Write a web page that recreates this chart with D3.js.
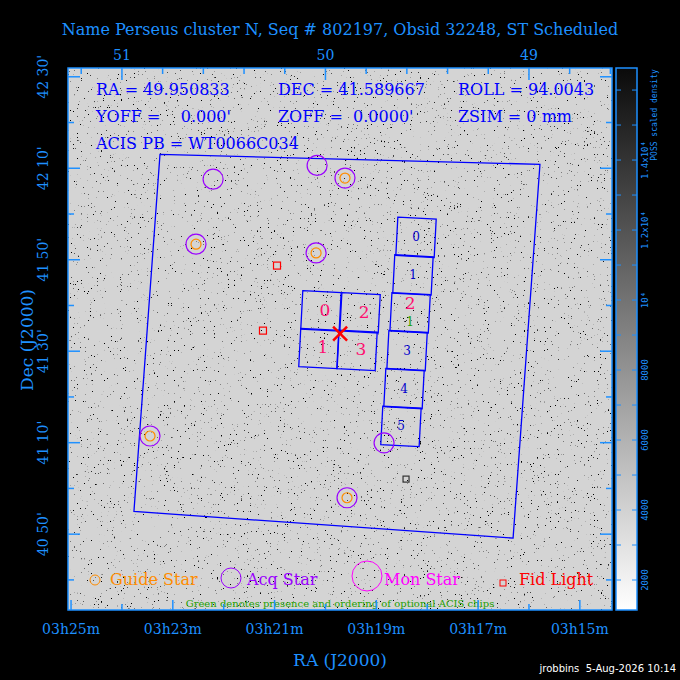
<!DOCTYPE html>
<html><head><meta charset="utf-8">
<script src="https://cdn.jsdelivr.net/npm/d3@7"></script>
<style>body{margin:0;background:#000}svg{display:block}</style>
</head><body>
<script>
// field of view data (RA / Dec in degrees)
const guideStars = [[50.636, 41.890], [50.046, 41.858], [49.904, 42.131], [50.862, 41.191], [49.894, 40.966]]
const acqOnly = [[50.552, 42.127], [50.041, 42.177], [49.712, 41.166]]
const fidLights = [[50.238, 41.812], [50.307, 41.575]]
const darkFid = [[49.604, 41.034]]
const aimpoint = [49.928, 41.564]
const fieldBox = [[50.813, 42.217], [48.946, 42.181], [49.078, 40.819], [50.941, 40.916]]
const iChips = [
	{ id: '0', ra: 50.022, dec: 41.647, on: true },
	{ id: '2', ra: 49.830, dec: 41.640, on: true },
	{ id: '1', ra: 50.032, dec: 41.510, on: true },
	{ id: '3', ra: 49.845, dec: 41.503, on: true }
]
const sChips = [
	{ id: '0', ra: 49.555, dec: 41.915, on: false },
	{ id: '1', ra: 49.570, dec: 41.778, on: false },
	{ id: '2', ra: 49.584, dec: 41.640, on: true, opt: '1' },
	{ id: '3', ra: 49.599, dec: 41.502, on: false },
	{ id: '4', ra: 49.614, dec: 41.364, on: false },
	{ id: '5', ra: 49.629, dec: 41.226, on: false }
]
const raDegTicks = [51, 50, 49]
const raHourTicks = ['03h25m', '03h23m', '03h21m', '03h19m', '03h17m', '03h15m']
const decTicks = ["42 30'", "42 10'", "41 50'", "41 30'", "41 10'", "40 50'"]
const cbarTicks = [2000, 4000, 6000, 8000, 10000, 12000, 14000]

const blue = '#1e90ff'
const svg = d3.select('body').append('svg').attr('width', 680).attr('height', 680)
	.style('font-family', 'DejaVu Serif')

const x0 = 68, x1 = 612, y0 = 68, y1 = 610
const xScale = d3.scaleLinear().domain([51.265, 48.592]).range([x0, x1])
const yScale = d3.scaleLinear().domain([42.532, 40.557]).range([y0, y1])

// sky background
const defs = svg.append('defs')
const f = defs.append('filter').attr('id', 'speck').attr('x', 0).attr('y', 0).attr('width', 1).attr('height', 1)
f.append('feTurbulence').attr('type', 'fractalNoise').attr('baseFrequency', 0.7).attr('numOctaves', 2).attr('seed', 3)
f.append('feColorMatrix').attr('type', 'matrix')
	.attr('values', '0 0 0 0 0  0 0 0 0 0  0 0 0 0 0  -14 0 0 0 3.9')
defs.append('linearGradient').attr('id', 'cbar').attr('x1', 0).attr('x2', 0).attr('y1', 1).attr('y2', 0)
	.selectAll('stop').data([['0%', '#fff'], ['100%', '#0a0a0a']]).enter().append('stop')
	.attr('offset', d => d[0]).attr('stop-color', d => d[1])

svg.append('rect').attr('x', x0).attr('y', y0).attr('width', x1 - x0).attr('height', y1 - y0).attr('fill', '#d4d4d4')
svg.append('rect').attr('x', x0).attr('y', y0).attr('width', x1 - x0).attr('height', y1 - y0).attr('filter', 'url(#speck)')

const line = d3.line().x(d => xScale(d[0])).y(d => yScale(d[1]))
svg.append('path').attr('d', line(fieldBox) + 'Z').attr('fill', 'none').attr('stroke', '#0000ff').attr('stroke-width', 1.3)

// chips
const half = Math.abs(yScale(41) - yScale(41.07))
const ang = 3 * Math.PI / 180
const chipPath = c => {
	const cx = xScale(c.ra), cy = yScale(c.dec)
	return d3.line()([[-1, -1], [1, -1], [1, 1], [-1, 1]].map(([a, b]) =>
		[cx + half * (a * Math.cos(ang) - b * Math.sin(ang)), cy + half * (a * Math.sin(ang) + b * Math.cos(ang))])) + 'Z'
}
const chips = iChips.map(c => Object.assign({ big: true }, c)).concat(sChips)
svg.selectAll('path.chip').data(chips).enter().append('path').attr('d', chipPath)
	.attr('fill', 'none').attr('stroke', '#0000ff').attr('stroke-width', 1.3)
svg.selectAll('text.chip').data(chips).enter().append('text')
	.attr('x', d => xScale(d.ra) + (d.big ? 4 : 0)).attr('y', d => yScale(d.dec) + (d.big ? 5 : (d.on ? -4 : 4)))
	.attr('text-anchor', 'middle').attr('font-size', d => d.on ? 17 : 12)
	.attr('fill', d => d.on ? '#ff1070' : '#0000cc').text(d => d.id)
svg.selectAll('text.opt').data(sChips.filter(d => d.opt)).enter().append('text')
	.attr('x', d => xScale(d.ra)).attr('y', d => yScale(d.dec) + 13).attr('text-anchor', 'middle')
	.attr('font-size', 12).attr('fill', '#22a000').text(d => d.opt)

// stars
const acq = guideStars.concat(acqOnly)
svg.selectAll('circle.acq').data(acq).enter().append('circle')
	.attr('cx', d => xScale(d[0])).attr('cy', d => yScale(d[1])).attr('r', 10)
	.attr('fill', 'none').attr('stroke', '#9a00ff').attr('stroke-width', 1.2)
svg.selectAll('circle.gui').data(guideStars).enter().append('circle')
	.attr('cx', d => xScale(d[0])).attr('cy', d => yScale(d[1])).attr('r', 5)
	.attr('fill', 'none').attr('stroke', '#ff8c00').attr('stroke-width', 1.2)
svg.selectAll('rect.fid').data(fidLights).enter().append('rect')
	.attr('x', d => xScale(d[0]) - 3.5).attr('y', d => yScale(d[1]) - 3.5).attr('width', 7).attr('height', 7)
	.attr('fill', 'none').attr('stroke', '#ff0000').attr('stroke-width', 1.2)
svg.selectAll('rect.dfid').data(darkFid).enter().append('rect')
	.attr('x', d => xScale(d[0]) - 3).attr('y', d => yScale(d[1]) - 3).attr('width', 6).attr('height', 6)
	.attr('fill', 'none').attr('stroke', '#333').attr('stroke-width', 1.2)
const ax = xScale(aimpoint[0]), ay = yScale(aimpoint[1])
svg.append('path').attr('d', `M${ax - 7},${ay - 7}L${ax + 7},${ay + 7}M${ax - 7},${ay + 7}L${ax + 7},${ay - 7}`)
	.attr('stroke', '#ff0000').attr('stroke-width', 2.5)

// info text
const info = [
	[96, 95, 'RA = 49.950833'], [278, 95, 'DEC = 41.589667'], [458, 95, 'ROLL = 94.0043'],
	[96, 122, 'YOFF =    0.000\''], [278, 122, 'ZOFF =  0.0000\''], [458, 122, 'ZSIM = 0 mm'],
	[96, 149, 'ACIS PB = WT0066C034']
]
svg.selectAll('text.info').data(info).enter().append('text')
	.attr('x', d => d[0]).attr('y', d => d[1]).attr('font-size', 16).attr('fill', '#0000ff')
	.attr('xml:space', 'preserve').style('white-space', 'pre').text(d => d[2])

// legend
svg.append('circle').attr('cx', 95).attr('cy', 580).attr('r', 5).attr('fill', 'none').attr('stroke', '#ff8c00')
svg.append('circle').attr('cx', 231).attr('cy', 578).attr('r', 10).attr('fill', 'none').attr('stroke', '#9a00ff')
svg.append('circle').attr('cx', 367).attr('cy', 576).attr('r', 15).attr('fill', 'none').attr('stroke', '#ff00ff')
svg.append('rect').attr('x', 500).attr('y', 580).attr('width', 6).attr('height', 6).attr('fill', 'none').attr('stroke', '#ff0000')
const leg = [[110, 'Guide Star', '#ff8c00'], [247, 'Acq Star', '#9a00ff'], [384, 'Mon Star', '#ff00ff'], [519, 'Fid Light', '#ff0000']]
svg.selectAll('text.leg').data(leg).enter().append('text').attr('x', d => d[0]).attr('y', 585)
	.attr('font-size', 16).attr('fill', d => d[2]).text(d => d[1])
svg.append('text').attr('x', 340).attr('y', 607).attr('text-anchor', 'middle').attr('font-size', 10)
	.attr('fill', '#22a000').text('Green denotes presence and ordering of optional ACIS chips')

// frame & ticks
const g = svg.append('g').attr('stroke', blue).attr('stroke-width', 1.5)
g.append('rect').attr('x', x0).attr('y', y0).attr('width', x1 - x0).attr('height', y1 - y0).attr('fill', 'none')
const raMin = d3.range(51.25, 48.6, -0.25)
raMin.forEach((r, i) => g.append('line').attr('x1', xScale(r)).attr('x2', xScale(r)).attr('y1', y1).attr('y2', y1 - (i % 2 ? 6 : 10)))
d3.range(51.2, 48.6, -0.2).forEach(r => {
	const big = Math.abs(r - Math.round(r)) < 0.01
	g.append('line').attr('x1', xScale(r)).attr('x2', xScale(r)).attr('y1', y0).attr('y2', y0 + (big ? 12 : 6))
})
d3.range(42.5, 40.55, -1 / 6).forEach((d, i) => {
	g.append('line').attr('x1', x0).attr('x2', x0 + (i % 2 ? 6 : 12)).attr('y1', yScale(d)).attr('y2', yScale(d))
	g.append('line').attr('x1', x1).attr('x2', x1 - (i % 2 ? 6 : 12)).attr('y1', yScale(d)).attr('y2', yScale(d))
})

const lbl = svg.append('g').attr('fill', blue)
lbl.selectAll('text.top').data(raDegTicks).enter().append('text').attr('x', d => xScale(d)).attr('y', 60)
	.attr('text-anchor', 'middle').attr('font-size', 14).text(d => d)
lbl.selectAll('text.bot').data(raHourTicks).enter().append('text').attr('x', (d, i) => xScale(51.25 - 0.5 * i))
	.attr('y', 634).attr('text-anchor', 'middle').attr('font-size', 14).text(d => d)
lbl.selectAll('text.dec').data(decTicks).enter().append('text')
	.attr('transform', (d, i) => `translate(48,${yScale(42.5 - i / 3)}) rotate(-90)`)
	.attr('text-anchor', 'middle').attr('font-size', 14).text(d => d)
lbl.append('text').attr('x', 340).attr('y', 666).attr('text-anchor', 'middle').attr('font-size', 17).text('RA (J2000)')
lbl.append('text').attr('transform', 'translate(33,340) rotate(-90)').attr('text-anchor', 'middle').attr('font-size', 17).text('Dec (J2000)')
lbl.append('text').attr('x', 340).attr('y', 35).attr('text-anchor', 'middle').attr('font-size', 16)
	.text('Name Perseus cluster N, Seq # 802197, Obsid 32248, ST Scheduled')

// colorbar
const cScale = d3.scaleLinear().domain([1143, 16630]).range([610, 68])
svg.append('rect').attr('x', 616).attr('y', 68).attr('width', 21).attr('height', 542).attr('fill', 'url(#cbar)')
	.attr('stroke', blue).attr('stroke-width', 1.5)
d3.range(2000, 16001, 1000).forEach(v => {
	const y = cScale(v)
	svg.append('line').attr('x1', 616).attr('x2', 621).attr('y1', y).attr('y2', y).attr('stroke', blue)
	svg.append('line').attr('x1', 632).attr('x2', 637).attr('y1', y).attr('y2', y).attr('stroke', blue)
})
const cLab = v => v < 10000 ? String(v) : (v === 10000 ? '10⁴' : (v / 10000) + 'x10⁴')
svg.selectAll('text.cb').data(cbarTicks).enter().append('text')
	.attr('transform', d => `translate(648,${cScale(d)}) rotate(-90)`).attr('text-anchor', 'middle')
	.attr('font-size', 9).attr('font-family', 'DejaVu Sans Mono').attr('fill', blue).text(cLab)
svg.append('text').attr('transform', 'translate(657,115) rotate(-90)').attr('text-anchor', 'middle')
	.attr('font-size', 8).attr('font-family', 'DejaVu Sans Mono').attr('fill', blue).text('POSS scaled density')

svg.append('text').attr('x', 676).attr('y', 672).attr('text-anchor', 'end').attr('font-size', 10)
	.attr('font-family', 'DejaVu Sans').attr('fill', '#fff').attr('xml:space', 'preserve').style('white-space', 'pre')
	.text('jrobbins  5-Aug-2026 10:14')
</script>
</body></html>
